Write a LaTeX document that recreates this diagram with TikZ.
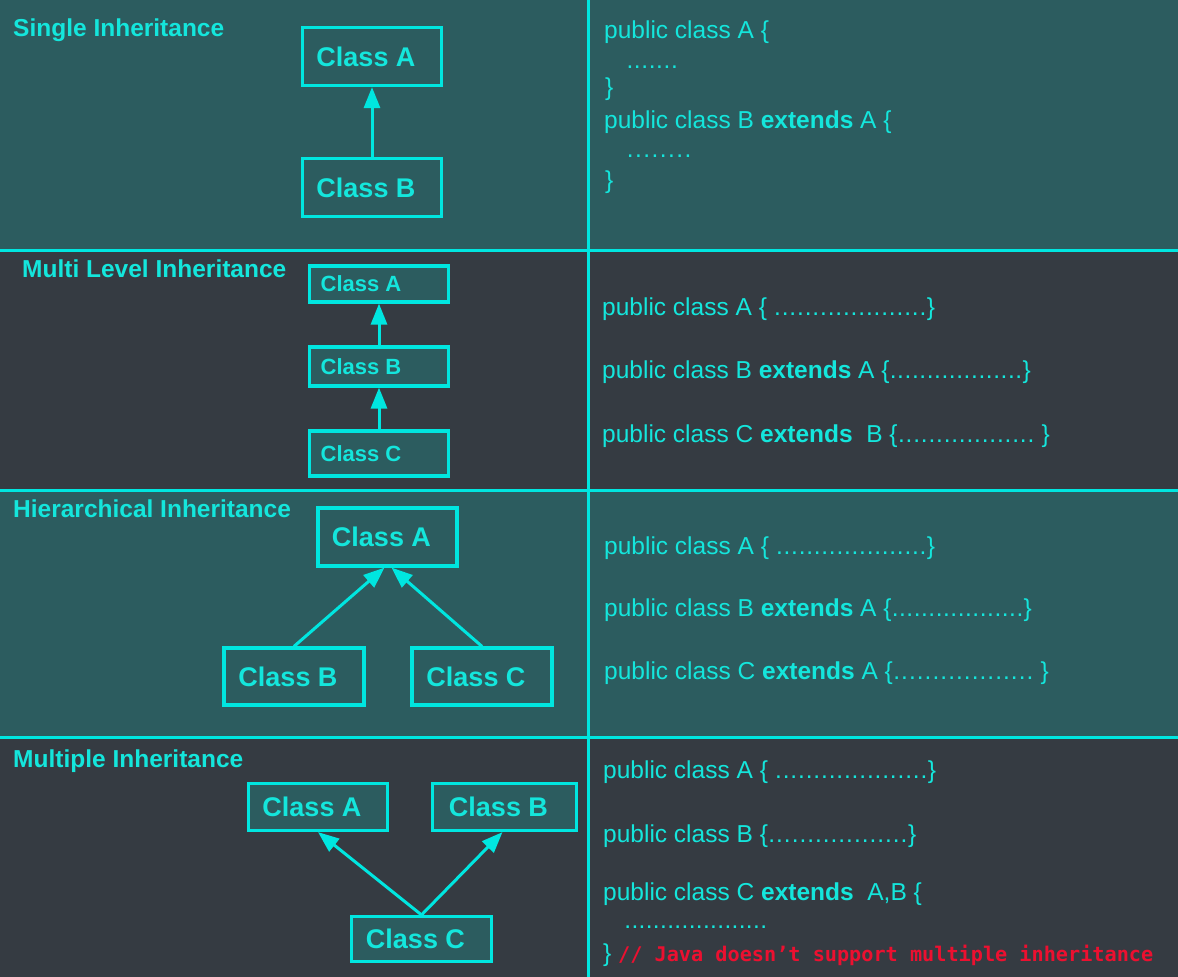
\documentclass[tikz,border=0pt]{standalone}
\usepackage{fontspec}
\setmainfont{Liberation Sans}
\newfontfamily\monofont{DejaVu Sans Mono}
\usetikzlibrary{arrows.meta}
\definecolor{cy}{HTML}{14E6DC}
\definecolor{cyline}{HTML}{00E6E0}
\definecolor{bgteal}{HTML}{2C5C5F}
\definecolor{bgdark}{HTML}{353B42}
\definecolor{codered}{HTML}{EC1030}
\newcommand\dotrow[2]{\hbox to #2{\xleaders\hbox to \dimexpr#2/#1\relax{\hss.\hss}\hfill}}
\begin{document}
\begin{tikzpicture}[x=1pt,y=-1pt,
  divider/.style={draw=cyline, line width=3pt},
  title/.style={anchor=base west, inner sep=0pt, text=cy, font=\bfseries\fontsize{24.5}{24.5}\selectfont},
  code/.style={anchor=base west, inner sep=0pt, text=cy, font=\fontsize{24.5}{24.5}\selectfont},
  box/.style={draw=cyline, line width=3.2pt, text=cy, inner sep=0pt,
    font=\bfseries\fontsize{27}{27}\selectfont, execute at end node={\hspace*{12pt}}},
  smallbox/.style={box, font=\bfseries\fontsize{22}{22}\selectfont, execute at end node={\hspace*{24pt}}},
  arr/.style={draw=cyline, line width=3pt, -{Triangle[length=21pt,width=16pt]}}
]
\useasboundingbox (0,0) rectangle (1178,977);
% backgrounds
\fill[bgteal] (0,0) rectangle (1178,250);
\fill[bgdark] (0,250) rectangle (1178,490);
\fill[bgteal] (0,490) rectangle (1178,737);
\fill[bgdark] (0,737) rectangle (1178,977);
% dividers
\draw[divider] (0,250) -- (1178,250);
\draw[divider] (0,490) -- (1178,490);
\draw[divider] (0,737) -- (1178,737);
\draw[divider] (588,0) -- (588,977);

% ---- Row 1: single
\node[title] (t1) at (13,36) {Single Inheritance};
\node[box, minimum width=139pt, minimum height=58pt] (sA) at (372,56.5) {Class A};
\node[box, minimum width=139pt, minimum height=58pt] (sB) at (372,187.5) {Class B};
\draw[arr] (sB.north) -- (sA.south);
\node[code] (c11) at (604,38) {public class A \{};
\node[code] (c12) at (626,68) {\dotrow{7}{52pt}};
\node[code] (c13) at (605,95) {\}};
\node[code] (c14) at (604,128) {public class B \textbf{extends} A \{};
\node[code] (c15) at (626,157) {\dotrow{8}{66pt}};
\node[code] (c16) at (605,188) {\}};

% ---- Row 2: multi level
\node[title] (t2) at (22,277) {Multi Level Inheritance};
\node[smallbox, fill=bgteal, minimum width=139pt, minimum height=36pt] (mA) at (379,284) {Class A};
\node[smallbox, fill=bgteal, minimum width=139pt, minimum height=39pt] (mB) at (379,366.5) {Class B};
\node[smallbox, fill=bgteal, minimum width=139pt, minimum height=45pt] (mC) at (379,453.5) {Class C};
\draw[arr] (mB.north) -- (mA.south);
\draw[arr] (mC.north) -- (mB.south);
\node[code] (c21) at (602,315) {public class A \{ \dotrow{20}{153pt}\}};
\node[code] (c22) at (602,378) {public class B \textbf{extends} A \{\dotrow{18}{133pt}\}};
\node[code] (c23) at (602,442) {public class C \textbf{extends}\ \ B \{\dotrow{18}{137pt}\ \}};

% ---- Row 3: hierarchical
\node[title] (t3) at (13,517) {Hierarchical Inheritance};
\node[box, minimum width=139pt, minimum height=58pt] (hA) at (387.5,537) {Class A};
\node[box, minimum width=140pt, minimum height=57pt] (hB) at (294,676.5) {Class B};
\node[box, minimum width=140pt, minimum height=57pt] (hC) at (482,676.5) {Class C};
\draw[arr] (hB.north) -- ([xshift=-3pt]hA.south);
\draw[arr] (hC.north) -- ([xshift=4pt]hA.south);
\node[code] (c31) at (604,554) {public class A \{ \dotrow{20}{151pt}\}};
\node[code] (c32) at (604,616) {public class B \textbf{extends} A \{\dotrow{18}{132pt}\}};
\node[code] (c33) at (604,679) {public class C \textbf{extends} A \{\dotrow{18}{141pt}\ \}};

% ---- Row 4: multiple
\node[title] (t4) at (13,767) {Multiple Inheritance};
\node[box, fill=bgteal, minimum width=139pt, minimum height=47pt] (pA) at (318,807) {Class A};
\node[box, fill=bgteal, minimum width=144pt, minimum height=47pt] (pB) at (504.5,807) {Class B};
\node[box, fill=bgteal, minimum width=140pt, minimum height=45pt] (pC) at (421.5,939) {Class C};
\draw[arr] (pC.north) -- (pA.south);
\draw[arr] (pC.north) -- ([xshift=-2pt]pB.south);
\node[code] (c41) at (603,778) {public class A \{ \dotrow{20}{153pt}\}};
\node[code] (c42) at (603,842) {public class B \{\dotrow{18}{140pt}\}};
\node[code] (c43) at (603,900) {public class C \textbf{extends}\ \ A,B \{};
\node[code] (c44) at (624,928) {\dotrow{20}{143pt}};
\node[code] (c45) at (603,961) {\} {\color{codered}\monofont\bfseries\fontsize{20.2}{20.2}\selectfont // Java doesn’t support multiple inheritance}};
\end{tikzpicture}
\end{document}
